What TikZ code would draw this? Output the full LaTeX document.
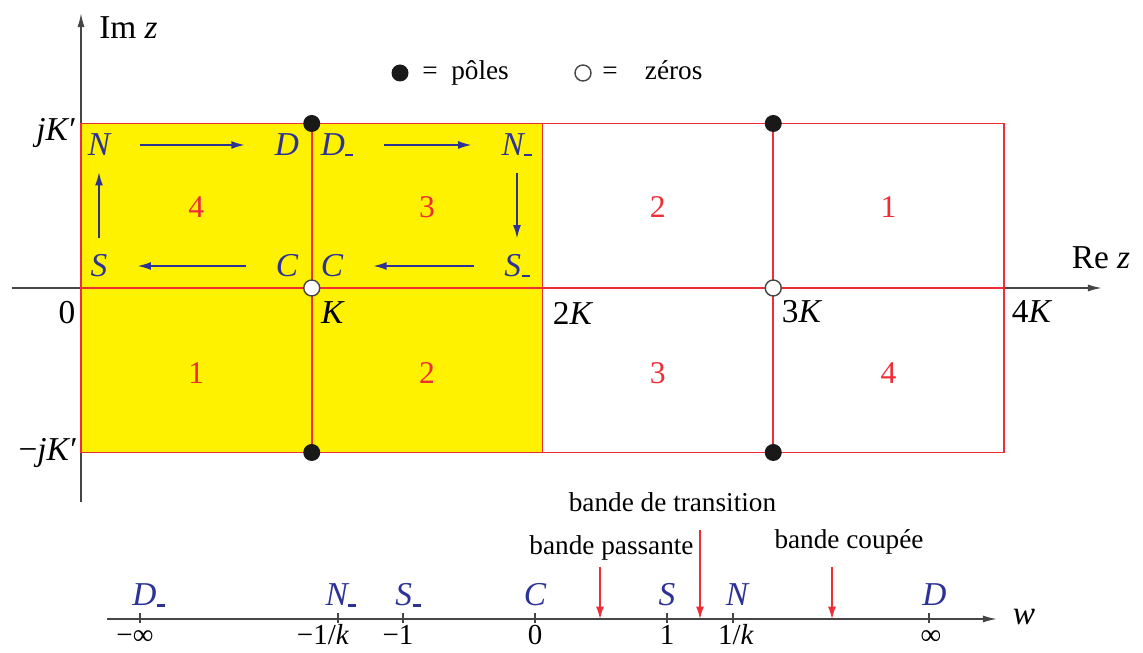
\documentclass[tikz,border=0pt]{standalone}
\usepackage{fontspec}
\setmainfont{Liberation Serif}
\usetikzlibrary{arrows.meta}

\definecolor{fond}{RGB}{255,242,0}
\definecolor{rouge}{RGB}{238,45,55}
\definecolor{bleu}{RGB}{45,50,150}
\definecolor{axegris}{RGB}{70,70,70}

\newcommand{\moins}[1]{\textit{#1}\kern0.01em\rule[-0.02em]{0.24em}{0.08em}}

\tikzset{
  lettre/.style={text=bleu,font=\fontsize{19}{19}\selectfont\itshape,inner sep=0pt},
  zone/.style={text=rouge,font=\fontsize{18}{18}\selectfont,inner sep=0pt},
  etiq/.style={font=\fontsize{19}{19}\selectfont,inner sep=0pt},
  valeur/.style={font=\fontsize{16.5}{16.5}\selectfont,inner sep=0pt,anchor=base},
  legende/.style={font=\fontsize{15.5}{15.5}\selectfont,inner sep=0pt},
  trait/.style={draw=rouge,line width=0.9pt},
  axe/.style={draw=axegris,line width=0.9pt,-{Latex[length=8pt,width=4pt]}},
  parcours/.style={draw=bleu,line width=0.8pt,-{Latex[length=7.5pt,width=4.5pt]},shorten <=0.6cm,shorten >=0.6cm},
  bande/.style={draw=rouge,line width=0.8pt,-{Latex[length=7pt,width=4.5pt]}},
  polept/.style={circle,fill=black!90,inner sep=0pt,minimum size=0.34cm},
  zeropt/.style={circle,draw=axegris,fill=white,line width=0.8pt,inner sep=0pt,minimum size=0.32cm}
}

\begin{document}
\begin{tikzpicture}[scale=1.0]
\useasboundingbox (-1.62,-7.3) rectangle (21.24,5.76);
\def\K{4.615}
\def\Kp{3.29}

\fill[fond] (0,-\Kp) rectangle (9.23,\Kp);

\draw[axe] (0,-4.28) -- (0,5.5);
\draw[axe] (-1.38,0) -- (20.42,0);

\draw[trait] (0,-\Kp) rectangle (18.46,\Kp);
\draw[trait] (0,0) -- (18.46,0);
\draw[trait] (4.615,-\Kp) -- (4.615,\Kp);
\draw[trait] (9.23,-\Kp) -- (9.23,\Kp);
\draw[trait] (13.845,-\Kp) -- (13.845,\Kp);

\node[polept] (p1) at (4.615,\Kp) {};
\node[polept] (p2) at (13.845,\Kp) {};
\node[polept] (p3) at (4.615,-\Kp) {};
\node[polept] (p4) at (13.845,-\Kp) {};
\node[zeropt] (z1) at (4.615,0) {};
\node[zeropt] (z2) at (13.845,0) {};

\node[etiq] (imz) at (0.95,5.2) {Im \textit{z}};
\node[etiq] (rez) at (20.4,0.6) {Re \textit{z}};
\node[etiq,anchor=east] (jk) at (-0.08,3.1) {\textit{jK}′};
\node[etiq,anchor=east] (mjk) at (-0.06,-3.3) {−\textit{jK}′};
\node[etiq] (o) at (-0.28,-0.5) {0};
\node[etiq] (k1) at (5.04,-0.5) {\textit{K}};
\node[etiq] (k2) at (9.84,-0.5) {2\textit{K}};
\node[etiq] (k3) at (14.42,-0.48) {3\textit{K}};
\node[etiq] (k4) at (19.02,-0.48) {4\textit{K}};

\foreach \i/\h/\b in {0/4/1,1/3/2,2/2/3,3/1/4} {
  \node[zone] at ({(\i+0.5)*\K},1.62) {\h};
  \node[zone] at ({(\i+0.5)*\K},-1.7) {\b};
}

\node[lettre] (N) at (0.36,2.86) {N};
\node[lettre] (D) at (4.12,2.86) {D};
\node[lettre] (Dm) at (5.12,2.86) {\moins{D}};
\node[lettre] (Nm) at (8.72,2.86) {\moins{N}};
\node[lettre] (S) at (0.36,0.44) {S};
\node[lettre] (C) at (4.12,0.44) {C};
\node[lettre] (Cb) at (5.02,0.44) {C};
\node[lettre] (Sm) at (8.72,0.44) {\moins{S}};

\draw[parcours] (N) -- (D);
\draw[parcours] (Dm) -- (Nm);
\draw[parcours] (C) -- (S);
\draw[parcours] (Sm) -- (Cb);
\draw[parcours,shorten <=0.32cm,shorten >=0.32cm] (S) -- (N);
\draw[parcours,shorten <=0.32cm,shorten >=0.32cm] (Nm) -- (Sm);

\node[polept] (lp) at (6.38,4.3) {};
\node[legende,anchor=base west] (lpt) at (6.82,4.17) {=\ \ pôles};
\node[zeropt] (lz) at (10.04,4.3) {};
\node[legende,anchor=base west] (lzt) at (10.42,4.17) {=\quad zéros};

\coordinate (wg) at (0.52,-6.62);
\coordinate (wd) at (18.32,-6.62);
\draw[axe] (wg) -- (wd);
\node[etiq] (w) at (18.86,-6.58) {\textit{w}};

\foreach \x in {1.18,5.14,6.44,9.08,11.72,13.04,16.96}
  \draw[axegris,line width=0.9pt] (\x,-6.5) -- (\x,-6.71);

\node[lettre,anchor=base] (wDm) at (1.35,-6.36) {\moins{D}};
\node[lettre,anchor=base] (wNm) at (5.2,-6.36) {\moins{N}};
\node[lettre,anchor=base] (wSm) at (6.54,-6.36) {\moins{S}};
\node[lettre,anchor=base] (wC) at (9.08,-6.36) {C};
\node[lettre,anchor=base] (wS) at (11.72,-6.36) {S};
\node[lettre,anchor=base] (wN) at (13.12,-6.36) {N};
\node[lettre,anchor=base] (wD) at (17.07,-6.36) {D};

\node[valeur] (vminf) at (1.08,-7.13) {−∞};
\node[valeur] (vmk) at (4.84,-7.13) {−1/\textit{k}};
\node[valeur] (vmun) at (6.34,-7.13) {−1};
\node[valeur] (vzero) at (9.08,-7.13) {0};
\node[valeur] (vun) at (11.72,-7.13) {1};
\node[valeur] (vk) at (13.1,-7.13) {1/\textit{k}};
\node[valeur] (vinf) at (17.0,-7.13) {∞};

\node[legende] (tbt) at (11.83,-4.28) {bande de transition};
\node[legende] (tbp) at (10.61,-5.2) {bande passante};
\node[legende] (tbc) at (15.36,-5.08) {bande coupée};

\coordinate (bp) at (10.38,-5.58);
\coordinate (bt) at (12.38,-4.84);
\coordinate (bc) at (15.02,-5.58);
\draw[bande] (bp) -- (bp |- wg);
\draw[bande] (bt) -- (bt |- wg);
\draw[bande] (bc) -- (bc |- wg);
\end{tikzpicture}
\end{document}
